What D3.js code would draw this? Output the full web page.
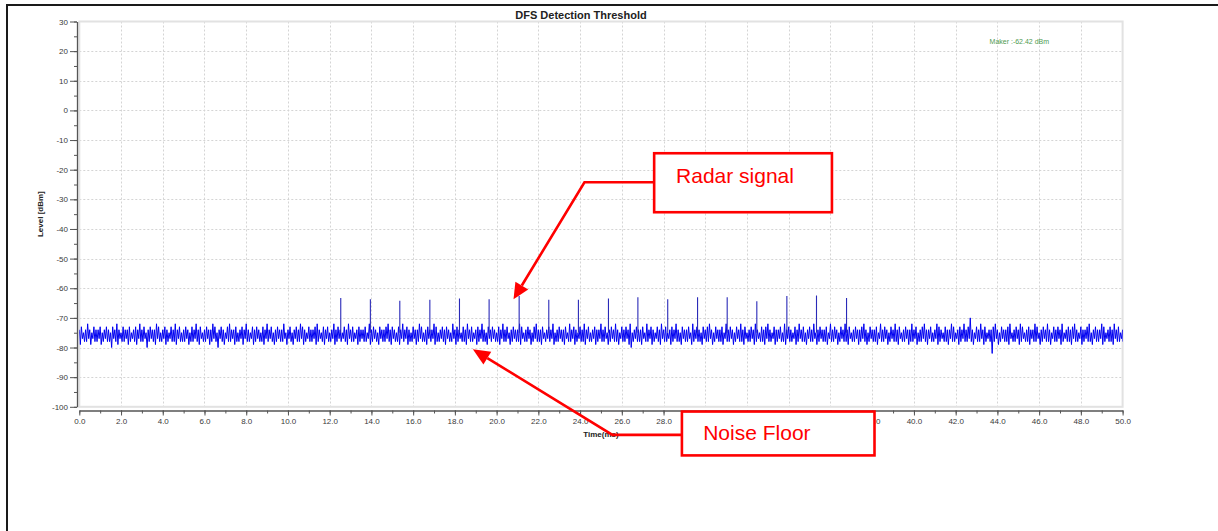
<!DOCTYPE html>
<html>
<head>
<meta charset="utf-8">
<script src="https://cdn.jsdelivr.net/npm/d3@7"></script>
<style>
  html, body { margin: 0; padding: 0; background: #fff; }
  svg { display: block; font-family: "Liberation Sans", Arial, sans-serif; }
</style>
</head>
<body>
<svg id="chart" width="1218" height="531"></svg>
<script>
// ---------------- DATA ----------------
const chartTitle = "DFS Detection Threshold";
const xLabel = "Time(ms)";
const yLabel = "Level [dBm]";
const markerText = "Maker :-62.42 dBm";

const xTicks = [0,2,4,6,8,10,12,14,16,18,20,22,24,26,28,30,32,34,36,38,40,42,44,46,48,50];
const xHiddenLabels = [30,32,34,36];   // covered by the "Noise Floor" box in the reference
const xMinorTicks = d3.range(0, 51, 1);
const yTicks = [30,20,10,0,-10,-20,-30,-40,-50,-60,-70,-80,-90,-100];
const yMinorTicks = d3.range(-100, 31, 5);

const noiseStart = 0;     // ms
const noiseStep = 0.1;    // ms per envelope bin
// upper and lower envelope of the noise trace in each 0.1 ms bin (dBm)
const noiseHi = [
 -74,-73,-75,-74,-72,-74,-75,-73,-74,-74,-73,-75,-74,-73,-74,-75,-73,-74,-72,-74,-75,-73,-74,-74,-73,
 -75,-74,-73,-74,-72,-74,-73,-75,-74,-73,-74,-74,-72,-73,-75,-74,-73,-74,-75,-73,-74,-72,-74,-73,-75,
 -74,-73,-74,-75,-73,-74,-72,-74,-73,-75,-74,-73,-74,-74,-72,-73,-75,-74,-73,-74,-75,-73,-72,-74,-74,
 -73,-75,-74,-73,-74,-72,-74,-75,-73,-74,-73,-74,-75,-73,-74,-72,-74,-73,-75,-74,-73,-74,-74,-72,-75,
 -74,-73,-75,-74,-73,-74,-72,-73,-74,-75,-73,-74,-74,-73,-72,-74,-75,-73,-74,-73,-75,-74,-72,-74,-73,
 -74,-75,-73,-74,-72,-74,-73,-75,-74,-73,-74,-74,-73,-75,-72,-74,-73,-74,-75,-73,-74,-74,-73,-72,-74,
 -73,-74,-75,-73,-74,-72,-74,-73,-74,-75,-73,-74,-74,-72,-73,-75,-74,-73,-74,-74,-72,-73,-75,-74,-73,
 -74,-73,-74,-75,-72,-74,-73,-74,-75,-73,-74,-72,-74,-73,-75,-74,-73,-74,-72,-74,-75,-73,-74,-73,-74,
 -75,-73,-74,-72,-74,-73,-75,-74,-73,-74,-74,-72,-73,-75,-74,-73,-74,-75,-73,-72,-74,-74,-73,-75,-74,
 -73,-74,-72,-75,-74,-73,-74,-74,-73,-75,-72,-74,-73,-74,-75,-73,-74,-72,-74,-73,-75,-74,-73,-74,-74,
 -72,-74,-73,-75,-74,-73,-74,-72,-74,-75,-73,-74,-73,-74,-72,-75,-74,-73,-74,-74,-73,-75,-72,-74,-73,
 -74,-75,-73,-74,-72,-74,-73,-75,-74,-73,-74,-72,-74,-75,-73,-74,-74,-73,-75,-72,-74,-73,-74,-75,-73,
 -74,-73,-72,-74,-75,-73,-74,-74,-73,-75,-72,-74,-73,-74,-75,-73,-74,-72,-74,-73,-75,-74,-73,-74,-72,
 -74,-75,-73,-74,-73,-72,-74,-75,-73,-74,-74,-73,-75,-72,-74,-73,-74,-75,-73,-74,-72,-74,-73,-75,-74,
 -73,-74,-72,-75,-74,-73,-74,-74,-73,-75,-72,-74,-73,-74,-75,-73,-74,-72,-74,-73,-75,-74,-73,-74,-74,
 -73,-72,-74,-75,-73,-74,-74,-73,-75,-72,-74,-73,-74,-75,-73,-74,-72,-74,-73,-75,-74,-73,-74,-74,-72,
 -74,-73,-75,-74,-73,-72,-74,-74,-73,-75,-74,-72,-73,-74,-75,-73,-74,-74,-72,-73,-75,-74,-73,-74,-72,
 -74,-73,-70,-74,-75,-73,-74,-72,-74,-73,-75,-74,-74,-73,-72,-74,-75,-73,-74,-74,-73,-72,-75,-74,-73,
 -74,-72,-73,-75,-74,-73,-74,-74,-72,-73,-75,-74,-73,-74,-72,-74,-75,-73,-74,-73,-74,-72,-75,-74,-73,
 -74,-73,-72,-74,-75,-73,-74,-74,-73,-72,-75,-74,-73,-74,-74,-72,-73,-75,-74,-73,-74,-72,-74,-73,-75,
 -74
];
const noiseLo = [
 -79,-77,-78,-78,-77,-79,-77,-78,-78,-77,-79,-78,-77,-78,-78,-80,-77,-78,-79,-77,-78,-78,-77,-79,-78,
 -77,-78,-79,-77,-78,-78,-77,-80,-78,-77,-78,-79,-77,-78,-78,-77,-79,-78,-77,-78,-78,-79,-77,-78,-78,
 -78,-77,-79,-78,-78,-77,-78,-79,-77,-78,-78,-77,-79,-78,-77,-78,-80,-77,-78,-79,-77,-78,-78,-77,-79,
 -78,-78,-77,-79,-77,-78,-78,-77,-79,-78,-77,-78,-78,-79,-77,-78,-77,-78,-79,-78,-77,-78,-78,-77,-79,
 -77,-78,-79,-77,-78,-78,-77,-79,-78,-77,-78,-78,-77,-79,-78,-77,-78,-79,-77,-78,-78,-77,-79,-78,-77,
 -78,-77,-78,-79,-77,-78,-78,-77,-79,-78,-77,-78,-78,-77,-79,-78,-77,-78,-79,-77,-78,-78,-77,-78,-79,
 -77,-78,-78,-79,-77,-78,-77,-79,-78,-78,-77,-79,-78,-77,-78,-78,-79,-77,-78,-77,-79,-78,-78,-77,-78,
 -79,-77,-78,-78,-77,-79,-78,-77,-78,-78,-79,-77,-78,-78,-77,-79,-78,-77,-78,-78,-79,-77,-78,-77,-78,
 -78,-79,-77,-78,-78,-77,-79,-78,-77,-78,-78,-79,-77,-78,-78,-77,-79,-78,-77,-78,-78,-79,-77,-78,-77,
 -78,-77,-79,-78,-78,-77,-78,-79,-77,-78,-78,-77,-79,-78,-77,-78,-78,-79,-77,-78,-78,-77,-79,-78,-77,
 -78,-78,-77,-79,-78,-77,-78,-78,-79,-77,-78,-78,-77,-79,-80,-78,-77,-78,-78,-79,-77,-78,-78,-77,-79,
 -78,-77,-78,-79,-77,-78,-78,-77,-79,-78,-77,-78,-78,-79,-77,-78,-78,-77,-79,-78,-77,-78,-78,-79,-77,
 -78,-78,-77,-79,-78,-77,-78,-78,-79,-77,-78,-78,-77,-79,-78,-77,-78,-78,-79,-77,-78,-78,-77,-79,-78,
 -77,-78,-78,-79,-77,-78,-78,-77,-79,-78,-77,-78,-78,-79,-77,-78,-78,-77,-79,-78,-77,-78,-78,-79,-77,
 -78,-78,-77,-79,-78,-77,-78,-78,-79,-77,-78,-78,-77,-79,-78,-77,-78,-78,-79,-77,-78,-78,-77,-79,-78,
 -77,-78,-79,-78,-77,-78,-78,-79,-77,-78,-78,-77,-79,-78,-77,-78,-78,-79,-77,-78,-78,-77,-79,-78,-78,
 -77,-79,-78,-78,-77,-78,-79,-77,-78,-78,-77,-79,-78,-77,-78,-78,-79,-77,-78,-78,-77,-79,-78,-77,-78,
 -78,-77,-78,-79,-77,-78,-78,-77,-79,-78,-77,-78,-82,-78,-77,-79,-78,-77,-78,-78,-79,-77,-78,-78,-77,
 -79,-78,-77,-78,-78,-79,-77,-78,-78,-77,-79,-78,-77,-78,-78,-79,-77,-78,-78,-77,-79,-78,-77,-78,-78,
 -79,-77,-78,-78,-77,-79,-78,-77,-78,-78,-79,-77,-78,-78,-77,-79,-78,-77,-78,-78,-79,-77,-78,-78,-77,
 -78
];

const pulseTime = [12.53,13.95,15.36,16.80,18.22,19.64,21.08,22.50,23.92,25.36,26.77,28.20,29.63,31.05,32.47,33.91,35.33,36.77];
const pulsePeak = [-63.3,-63.7,-64.2,-63.9,-63.5,-63.7,-62.6,-63.9,-63.9,-63.5,-63.0,-63.7,-63.0,-63.0,-64.4,-62.6,-62.42,-63.3];
const pulseBase = -75;

// ---------------- LAYOUT ----------------
const svg = d3.select("#chart");
const plot = { left: 79.3, right: 1122.6, top: 21.5, bottom: 406.8 };
const x = d3.scaleLinear().domain([0, 50]).range([plot.left, plot.right]);
const y = d3.scaleLinear().domain([-100, 30]).range([plot.bottom, plot.top]);

// outer frame (top and left)
svg.append("path")
  .attr("d", "M7,531 V5 H1218")
  .attr("fill", "none").attr("stroke", "#1a1a1a").attr("stroke-width", 2);

// grid
const grid = svg.append("g").attr("stroke", "#d4d4d4").attr("stroke-width", 1).attr("stroke-dasharray", "2,2");
grid.selectAll("line.v").data(xTicks.filter(d => d > 0 && d < 50)).enter().append("line")
  .attr("x1", d => Math.round(x(d)) + 0.5).attr("x2", d => Math.round(x(d)) + 0.5)
  .attr("y1", plot.top).attr("y2", plot.bottom);
grid.selectAll("line.h").data(yTicks.filter(d => d > -100 && d < 30)).enter().append("line")
  .attr("y1", d => Math.round(y(d)) + 0.5).attr("y2", d => Math.round(y(d)) + 0.5)
  .attr("x1", plot.left).attr("x2", plot.right);

// plot frame
svg.append("rect")
  .attr("x", plot.left).attr("y", plot.top)
  .attr("width", plot.right - plot.left).attr("height", plot.bottom - plot.top)
  .attr("fill", "none").attr("stroke", "#e2e2e2").attr("stroke-width", 2);

// clip
svg.append("clipPath").attr("id", "clip").append("rect")
  .attr("x", plot.left).attr("y", plot.top)
  .attr("width", plot.right - plot.left).attr("height", plot.bottom - plot.top);

// noise trace: alternate between the upper and lower envelope of each bin
const noiseData = [];
noiseHi.forEach((hi, i) => {
  const t = noiseStart + i * noiseStep;
  noiseData.push({ t, v: hi });
  noiseData.push({ t: Math.min(50, t + noiseStep / 2), v: noiseLo[i] });
});
const line = d3.line().x(d => x(d.t)).y(d => y(d.v));
svg.append("path")
  .datum(noiseData)
  .attr("clip-path", "url(#clip)")
  .attr("fill", "none")
  .attr("stroke", "#0000f0")
  .attr("stroke-width", 1)
  .attr("stroke-linejoin", "miter")
  .attr("d", line);

// radar pulses
svg.append("g").attr("clip-path", "url(#clip)")
  .selectAll("line").data(pulseTime.map((t, i) => ({ t, v: pulsePeak[i] }))).enter().append("line")
  .attr("x1", d => x(d.t)).attr("x2", d => x(d.t))
  .attr("y1", y(pulseBase)).attr("y2", d => y(d.v))
  .attr("stroke", "#2a2ab8").attr("stroke-width", 1.1);

// axes
const axisFont = g => g.selectAll("text").attr("font-size", 8).attr("fill", "#3a3a3a")
  .attr("font-family", "'Liberation Sans', Arial, sans-serif");

const yAxisG = svg.append("g").attr("transform", "translate(77,0)");
yAxisG.call(d3.axisLeft(y).tickValues(yMinorTicks).tickSize(3).tickSizeOuter(0).tickFormat(""));
yAxisG.append("g").call(d3.axisLeft(y).tickValues(yTicks).tickSize(7).tickSizeOuter(0).tickPadding(2)
    .tickFormat(d => String(d))).call(axisFont)
  .select(".domain").remove();
yAxisG.selectAll("path.domain").attr("stroke", "#555").attr("stroke-width", 1.3);
yAxisG.selectAll("line").attr("stroke", "#555");

const xAxisG = svg.append("g").attr("transform", "translate(0,410.5)");
xAxisG.call(d3.axisBottom(x).tickValues(xMinorTicks).tickSize(3).tickSizeOuter(0).tickFormat(""));
xAxisG.append("g").call(d3.axisBottom(x).tickValues(xTicks).tickSize(5).tickSizeOuter(0).tickPadding(3)
    .tickFormat(d => xHiddenLabels.includes(d) ? "" : d3.format(".1f")(d))).call(axisFont)
  .select(".domain").remove();
xAxisG.selectAll("path.domain").attr("stroke", "#555").attr("stroke-width", 1.3);
xAxisG.selectAll("line").attr("stroke", "#555");

// titles
svg.append("text").attr("x", 581).attr("y", 18.5).attr("text-anchor", "middle")
  .attr("font-size", 11).attr("font-weight", "bold").attr("fill", "#222").text(chartTitle);
svg.append("text").attr("x", (plot.left + plot.right) / 2).attr("y", 437).attr("text-anchor", "middle")
  .attr("font-size", 8).attr("font-weight", "bold").attr("fill", "#222").text(xLabel);
svg.append("text").attr("transform", `translate(43,${(plot.top + plot.bottom) / 2}) rotate(-90)`)
  .attr("text-anchor", "middle").attr("font-size", 8).attr("font-weight", "bold").attr("fill", "#222").text(yLabel);

// marker readout
svg.append("text").attr("x", x(45.05)).attr("y", y(22.4)).attr("text-anchor", "middle")
  .attr("font-size", 7).attr("fill", "#4f9a4f").text(markerText);

// ---------------- ANNOTATIONS (in data coordinates) ----------------
const red = "#ff0000";
function arrow(points, tipLen, tipHalf) {
  const pts = points.map(p => [x(p[0]), y(p[1])]);
  const n = pts.length;
  const [tx, ty] = pts[n - 1], [px, py] = pts[n - 2];
  const dx = tx - px, dy = ty - py, L = Math.hypot(dx, dy);
  const ux = dx / L, uy = dy / L;
  const bx = tx - ux * tipLen, by = ty - uy * tipLen;
  const shaft = pts.slice(0, n - 1).concat([[bx, by]]);
  svg.append("path").attr("d", d3.line()(shaft)).attr("fill", "none")
    .attr("stroke", red).attr("stroke-width", 2.6);
  svg.append("path")
    .attr("d", d3.line()([[tx, ty], [bx - uy * tipHalf, by + ux * tipHalf], [bx + uy * tipHalf, by - ux * tipHalf]]) + "Z")
    .attr("fill", red);
}
function box(t0, t1, v0, v1, label, tl, vl) {
  svg.append("rect").attr("x", x(t0)).attr("y", y(v0))
    .attr("width", x(t1) - x(t0)).attr("height", y(v1) - y(v0))
    .attr("fill", "#fff").attr("stroke", red).attr("stroke-width", 2.6);
  svg.append("text").attr("x", x(tl)).attr("y", y(vl))
    .attr("font-size", 21).attr("fill", red)
    .attr("font-family", "'Liberation Sans', Arial, sans-serif").text(label);
}

box(27.55, 36.07, -14.45, -34.35, "Radar signal", 28.6, -24.4);
arrow([[27.55, -24.23], [24.21, -24.23], [20.81, -63.7]], 16, 7.5);

box(28.88, 38.11, -101.6, -116.4, "Noise Floor", 29.9, -111.2);
arrow([[28.88, -109.46], [25.55, -109.46], [18.86, -80.56]], 17, 7.5);
</script>
</body>
</html>
